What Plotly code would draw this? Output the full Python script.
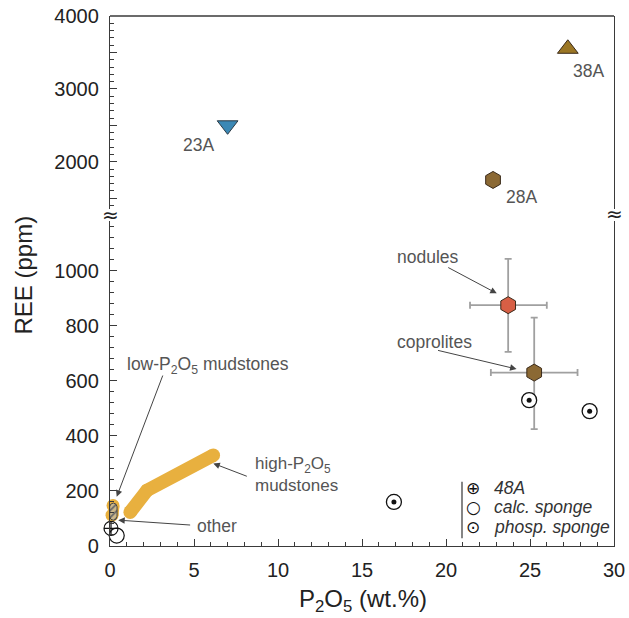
import plotly.graph_objects as go

# ---------------- data ----------------
x_23A = [7.0];   y_23A = [2500]
x_38A = [27.25]; y_38A = [3550]
x_28A = [22.8];  y_28A = [1750]

nod_x = [23.7]; nod_y = [875]
nod_xp = [2.3]; nod_xm = [2.27]; nod_yp = [168]; nod_ym = [170]

cop_x = [25.25]; cop_y = [630]
cop_xp = [2.58]; cop_xm = [2.58]; cop_yp = [200]; cop_ym = [205]

phosp_x = [16.9, 24.95, 28.55]; phosp_y = [160, 530, 490]
calc_x = [0.4]; calc_y = [38]
a48_x = [0.06]; a48_y = [64]

high_x = [1.2, 2.2, 6.15]; high_y = [123, 202, 330]
loworange_x = [0.12, 0.18]; loworange_y = [112, 147]
lowfield_x = [0.42, 0.356, 0.2, 0.044, -0.02, -0.02, 0.044, 0.2, 0.356, 0.42, 0.42]
lowfield_y = [142.5, 152.0, 156, 152.0, 142.5, 107, 97.5, 93.5, 97.5, 107, 142.5]

x_ticks = [0, 5, 10, 15, 20, 25, 30]
ylow_ticks = [0, 200, 400, 600, 800, 1000]
yup_ticks = [1500, 2000, 2500, 3000, 3500, 4000]
yup_text = ["", "2000", "", "3000", "", "4000"]
yup_minor = [1400, 1600, 1700, 1800, 1900, 2100, 2200, 2300, 2400, 2600, 2700, 2800, 2900,
             3100, 3200, 3300, 3400, 3600, 3700, 3800, 3900]

# ---------------- styles ----------------
FONT = "Arial, Liberation Sans, Helvetica, sans-serif"
AX = "#3a3a3a"
TXT = "#555555"
ORANGE = "#E8B03F"
BROWN = "#8B6934"
EDGE = "#3a2a1a"

W, H = 629, 618
L, R, T, B = 110, 15, 16, 72
PW, PH = W - L - R, H - T - B


def P(px, py):
    return (px - L) / PW, (H - B - py) / PH


fig = go.Figure()

# orange fields
fig.add_trace(go.Scatter(x=loworange_x, y=loworange_y, mode="lines+markers",
                         line=dict(color=ORANGE, width=13),
                         marker=dict(color=ORANGE, size=13), cliponaxis=False,
                         hoverinfo="skip", showlegend=False))
fig.add_trace(go.Scatter(x=high_x, y=high_y, mode="lines+markers",
                         line=dict(color=ORANGE, width=13.5),
                         marker=dict(color=ORANGE, size=13.5), cliponaxis=False,
                         hoverinfo="skip", showlegend=False))
# low-P2O5 hatched field
fig.add_trace(go.Scatter(x=lowfield_x, y=lowfield_y, mode="lines", fill="toself",
                         fillcolor="#c9b486",
                         fillpattern=dict(shape="/", fgcolor="#6a6a6a", bgcolor="#cdb88a",
                                          size=5, solidity=0.35),
                         line=dict(color="#444444", width=1),
                         hoverinfo="skip", showlegend=False))
# 48A and calc sponge
fig.add_trace(go.Scatter(x=a48_x, y=a48_y, mode="markers", cliponaxis=False,
                         marker=dict(symbol="circle-cross-open", size=14,
                                     color="#111111", line=dict(color="#111111", width=1.2)),
                         showlegend=False))
fig.add_trace(go.Scatter(x=calc_x, y=calc_y, mode="markers", cliponaxis=False,
                         marker=dict(symbol="circle-open", size=15,
                                     color="#111111", line=dict(color="#111111", width=1.2)),
                         showlegend=False))

# nodules & coprolites with error bars
fig.add_trace(go.Scatter(x=nod_x, y=nod_y, mode="markers",
                         error_x=dict(type="data", symmetric=False, array=nod_xp, arrayminus=nod_xm,
                                      color="#a0a0a0", thickness=1.8, width=3.5),
                         error_y=dict(type="data", symmetric=False, array=nod_yp, arrayminus=nod_ym,
                                      color="#a0a0a0", thickness=1.8, width=3.5),
                         marker=dict(symbol="hexagon", size=17, color="#D75F45",
                                     line=dict(color=EDGE, width=1)),
                         showlegend=False))
fig.add_trace(go.Scatter(x=cop_x, y=cop_y, mode="markers",
                         error_x=dict(type="data", symmetric=False, array=cop_xp, arrayminus=cop_xm,
                                      color="#a0a0a0", thickness=1.8, width=3.5),
                         error_y=dict(type="data", symmetric=False, array=cop_yp, arrayminus=cop_ym,
                                      color="#a0a0a0", thickness=1.8, width=3.5),
                         marker=dict(symbol="hexagon", size=17, color=BROWN,
                                     line=dict(color=EDGE, width=1)),
                         showlegend=False))
# phosp sponge
fig.add_trace(go.Scatter(x=phosp_x, y=phosp_y, mode="markers",
                         marker=dict(symbol="circle", size=15, color="white",
                                     line=dict(color="#111111", width=1.3)),
                         showlegend=False))
fig.add_trace(go.Scatter(x=phosp_x, y=phosp_y, mode="markers",
                         marker=dict(symbol="circle", size=5, color="#111111"),
                         showlegend=False))

# upper panel points
fig.add_trace(go.Scatter(x=x_23A, y=y_23A, yaxis="y2", mode="markers",
                         marker=dict(symbol="triangle-down", size=18, color="#3B88B5",
                                     line=dict(color="#2a3a45", width=1)),
                         showlegend=False))
fig.add_trace(go.Scatter(x=x_38A, y=y_38A, yaxis="y2", mode="markers",
                         marker=dict(symbol="triangle-up", size=18, color="#9B7624",
                                     line=dict(color=EDGE, width=1)),
                         showlegend=False))
fig.add_trace(go.Scatter(x=x_28A, y=y_28A, yaxis="y2", mode="markers",
                         marker=dict(symbol="hexagon", size=17, color=BROWN,
                                     line=dict(color=EDGE, width=1)),
                         showlegend=False))

low_top = 0.6138
up_bot = 0.6358

axis_common = dict(showline=True, linecolor=AX, linewidth=1.3, ticks="inside",
                   tickcolor=AX, tickwidth=1.1, ticklen=7, showgrid=False, zeroline=False,
                   automargin=False,
                   tickfont=dict(family=FONT, size=20, color="#222222"))

fig.update_layout(
    template="none",
    width=W, height=H, margin=dict(l=L, r=R, t=T, b=B, pad=0, autoexpand=False),
    paper_bgcolor="white", plot_bgcolor="white",
    xaxis=dict(domain=[0, 1], range=[0, 30], anchor="y", tickmode="array", tickvals=x_ticks,
               minor=dict(dtick=1, tick0=0, ticks="inside", ticklen=4, tickcolor=AX, showgrid=False),
               ticklabelstandoff=6, **axis_common),
    yaxis=dict(domain=[0, low_top], range=[0, 1182], anchor="x", tickmode="array",
               tickvals=ylow_ticks, mirror=True,
               minor=dict(dtick=40, tick0=0, ticks="inside", ticklen=4, tickcolor=AX, showgrid=False),
               ticklabelstandoff=6, **axis_common),
    yaxis2=dict(domain=[up_bot, 1], range=[1351, 4000], anchor="x", tickmode="array",
                tickvals=yup_ticks, ticktext=yup_text, mirror=True,
                minor=dict(tickmode="array", tickvals=yup_minor, ticks="inside", ticklen=4,
                           tickcolor=AX, showgrid=False),
                ticklabelstandoff=6, **axis_common),
    showlegend=False,
)

# top frame line
fig.add_shape(type="line", xref="paper", yref="paper", x0=0, x1=1, y0=1, y1=1,
              line=dict(color=AX, width=1.3))

ann = []


def text(px, py, s, size=17.5, color=TXT, xanchor="center", italic=False, family=FONT):
    x, y = P(px, py)
    ann.append(dict(x=x, y=y, xref="paper", yref="paper", text=s, showarrow=False,
                    xanchor=xanchor, yanchor="middle", align="left",
                    font=dict(family=family, size=size, color=color,
                              style="italic" if italic else "normal")))


def arrow(x, y, ax, ay):
    ann.append(dict(x=x, y=y, xref="x", yref="y", ax=ax, ay=ay, text="", showarrow=True,
                    arrowhead=2, arrowsize=1.3, arrowwidth=1, arrowcolor="#444444",
                    standoff=0, startstandoff=0))


# point labels
text(198, 145, "23A")
text(588, 71, "38A")
text(521.7, 196.7, "28A")
# field labels
text(428, 256.7, "nodules")
text(434, 342.3, "coprolites")
text(208, 365.7, "low-P<sub>2</sub>O<sub>5</sub> mudstones")
text(253, 474, "high-P<sub>2</sub>O<sub>5</sub><br>mudstones", size=17, xanchor="left")
text(195, 526, "other", xanchor="left")

arrow(0.40, 179, 46.6, -122.7)
arrow(6.15, 300, 35, 13.4)
arrow(0.49, 94, 73.4, 5)
arrow(23.02, 918, -50, -26.6)
arrow(24.2, 643, -80, -19)

# legend
text(473, 488.3, "⊕", size=17, color="#111111", family="DejaVu Sans")
text(473, 507.3, "○", size=17, color="#111111", family="DejaVu Sans")
text(473, 526.7, "⊙", size=17, color="#111111", family="DejaVu Sans")
text(491.7, 488.3, "48A", size=17.5, color="#333333", xanchor="left", italic=True)
text(491.7, 507.3, "calc. sponge", size=17.5, color="#333333", xanchor="left", italic=True)
text(491.7, 526.7, "phosp. sponge", size=17.5, color="#333333", xanchor="left", italic=True)
lx0, ly0 = P(462, 481.7)
lx1, ly1 = P(462, 538.3)
fig.add_shape(type="line", xref="paper", yref="paper", x0=lx0, x1=lx1, y0=ly0, y1=ly1,
              line=dict(color="#444444", width=1.3))

# axis break marks
text(110, 215, "≈", size=20, color="#222222", family="DejaVu Sans")
text(614, 214.5, "≈", size=20, color="#222222", family="DejaVu Sans")

# axis titles
text(363, 600, "P<sub>2</sub>O<sub>5</sub> (wt.%)", size=24, color="#222222")
tx, ty = P(22.5, 275)
ann.append(dict(x=tx, y=ty, xref="paper", yref="paper", text="REE (ppm)", showarrow=False,
                textangle=-90, xanchor="center", yanchor="middle",
                font=dict(family=FONT, size=24, color="#222222")))

fig.update_layout(annotations=ann)
fig.write_html("out.html")
